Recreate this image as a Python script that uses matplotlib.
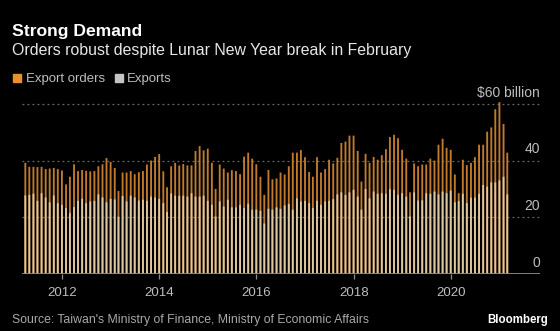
import numpy as np
import pandas as pd
import matplotlib
matplotlib.use('Agg')
import matplotlib.pyplot as plt
import matplotlib.dates as mdates

# Monthly data, Mar 2011 - Feb 2021 ($ billion)
months = pd.date_range('2011-03-31', periods=120, freq='ME')

export_orders = [
    39.2, 37.8, 37.8, 37.7, 37.8, 37.0, 37.2, 37.4, 37.0, 36.5, 31.6, 34.3, 38.7,
    36.3, 36.7, 36.4, 36.2, 36.3, 38.0, 38.7, 40.9, 39.5, 37.4, 29.3, 35.8,
    35.8, 36.3, 35.2, 35.9, 36.3, 38.6, 40.0, 41.3, 42.3, 36.2, 30.6, 38.0, 39.2,
    38.3, 38.8, 38.3, 38.3, 43.4, 45.1, 43.6, 44.2, 39.2, 30.0, 38.6, 37.2,
    35.8, 36.6, 36.3, 35.2, 41.4, 42.8, 40.7, 38.7, 34.3, 27.9, 36.7, 33.4, 33.7,
    35.8, 35.1, 38.0, 42.8, 42.8, 43.7, 41.2, 36.0, 34.3, 41.2, 35.8, 37.0,
    40.3, 39.0, 41.0, 46.2, 46.7, 48.8, 48.8, 43.4, 32.6, 42.4, 39.2, 41.3,
    40.3, 41.9, 44.0, 48.3, 49.1, 47.9, 43.8, 40.7, 28.8, 39.0, 38.0, 38.6,
    38.6, 40.7, 40.0, 45.6, 47.7, 44.5, 43.8, 35.1, 28.5, 40.3, 38.4, 39.2,
    41.2, 45.6, 45.6, 50.2, 51.7, 58.1, 60.6, 52.9, 42.8,
]
exports = [
    27.7, 27.9, 28.3, 25.8, 28.5, 27.0, 25.3, 27.7, 25.0, 24.4, 23.3, 21.5, 23.6,
    25.8, 26.5, 25.0, 25.6, 25.8, 28.1, 27.0, 25.3, 26.5, 26.3, 20.2, 27.5,
    25.6, 27.6, 27.0, 25.9, 26.2, 25.8, 27.3, 27.0, 26.5, 25.0, 21.9, 28.4, 27.6,
    27.6, 27.6, 27.3, 28.5, 27.3, 27.3, 27.6, 25.8, 24.4, 20.3, 25.6, 23.8,
    26.2, 23.5, 23.5, 24.4, 23.3, 24.8, 22.7, 22.7, 22.3, 17.8, 23.0, 22.7, 23.5,
    23.0, 24.2, 24.7, 22.7, 26.7, 25.6, 25.8, 25.0, 23.3, 25.8, 24.4, 25.6,
    25.8, 26.4, 28.1, 28.8, 27.9, 28.8, 29.7, 27.3, 22.7, 30.0, 26.7, 29.1,
    28.3, 28.5, 28.3, 29.9, 29.7, 27.9, 28.5, 27.3, 20.3, 28.8, 25.9, 26.0,
    28.5, 28.3, 29.1, 28.1, 29.1, 28.5, 29.4, 25.3, 25.7, 28.3, 25.0, 26.9,
    26.9, 28.3, 31.4, 30.8, 32.3, 32.3, 33.0, 34.3, 28.1,
]

y_ticks = [0, 20, 40, 60]
y_labels = ['0', '20', '40', '$60 billion']

bg = 'black'
orange = '#c27b2c'
beige = '#dec6a0'
grey_txt = '#bdbdbd'
font = 'Liberation Sans'
plt.rcParams['font.family'] = [font, 'DejaVu Sans']

W, H = 560, 331
fig = plt.figure(figsize=(W / 100, H / 100), dpi=100, facecolor=bg)

# axes placed in pixel terms
left, right, bottom, top = 22, 540, 274, 89.7
ax = fig.add_axes([left / W, 1 - bottom / H, (right - left) / W, (bottom - top) / H])
ax.set_facecolor(bg)

ax.bar(months, export_orders, width=14, color=orange, zorder=2, linewidth=0, snap=False)
ax.bar(months, exports, width=14, color=beige, zorder=3, linewidth=0, snap=False)

ax.set_ylim(0, 65)
ax.set_xlim(pd.Timestamp('2011-03-06'), pd.Timestamp('2021-11-01'))

for v in y_ticks[1:]:
    ax.axhline(v, color='#6a6a6a', lw=0.9, ls=(0, (1.5, 2.5)), zorder=1)
ax.axhline(0, color='#8c8c8c', lw=1.3, zorder=4)

for v, lab in zip(y_ticks, y_labels):
    ax.annotate(lab, xy=(1, v), xycoords=('axes fraction', 'data'),
                xytext=(0, 3), textcoords='offset points', ha='right', va='bottom',
                color=grey_txt, fontsize=10)

for s in ax.spines.values():
    s.set_visible(False)
ax.set_yticks([])
ax.xaxis.set_major_locator(mdates.YearLocator(2))
ax.xaxis.set_major_formatter(mdates.DateFormatter('%Y'))
ax.tick_params(axis='x', colors='#8c8c8c', length=3.5, width=0.9, pad=6,
               labelcolor=grey_txt, labelsize=9.5)

# titles and legend
fig.text(12 / W, 1 - 36 / H, 'Strong Demand', color='white', fontsize=12.6,
         fontweight='bold', va='baseline')
fig.text(12 / W, 1 - 55 / H, 'Orders robust despite Lunar New Year break in February',
         color='#e6e6e6', fontsize=11.4, va='baseline')

fig.patches.append(plt.Rectangle((13 / W, 1 - 82 / H), 8 / W, 8 / H, color='#e8922a',
                                 transform=fig.transFigure, figure=fig))
fig.text(26 / W, 1 - 82 / H, 'Export orders', color=grey_txt, fontsize=9.5,
         va='baseline')
fig.patches.append(plt.Rectangle((115 / W, 1 - 82 / H), 8 / W, 8 / H, color='#c4c4c4',
                                 transform=fig.transFigure, figure=fig))
fig.text(127 / W, 1 - 82 / H, 'Exports', color=grey_txt, fontsize=9.5,
         va='baseline')

fig.text(12 / W, 1 - 323 / H, "Source: Taiwan's Ministry of Finance, Ministry of Economic Affairs",
         color='#a8a8a8', fontsize=8.8, va='baseline')
fig.text(548 / W, 1 - 323 / H, 'Bloomberg', color='white', fontsize=8.3,
         fontweight='bold', ha='right', va='baseline')

fig.savefig('out.png', dpi=100, facecolor=bg)
